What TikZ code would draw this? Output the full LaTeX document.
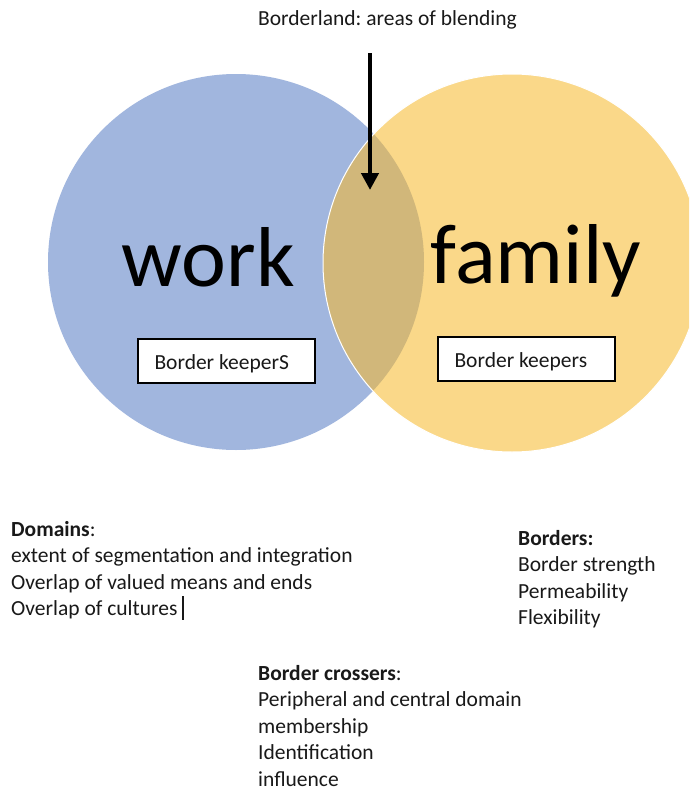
\documentclass[tikz,border=0pt]{standalone}
\usepackage{fontspec}
\setmainfont{Carlito}
\usetikzlibrary{arrows.meta}
\frenchspacing
\definecolor{workblue}{RGB}{161,182,222}
\definecolor{famyellow}{RGB}{250,216,137}
\definecolor{blendc}{RGB}{209,183,122}
\definecolor{txtc}{RGB}{25,25,25}
\tikzset{
  txt/.style={font=\fontsize{21.5}{26.5}\selectfont, inner sep=0pt, align=left, text=txtc},
  bigword/.style={font=\fontsize{85}{90}\selectfont, inner sep=0pt, text=black},
  keeper/.style={draw=black, line width=1.3pt, fill=white, minimum width=177pt, minimum height=44pt,
    font=\fontsize{21.5}{26.5}\selectfont, text=txtc, text height=20pt, text depth=4pt,
    inner ysep=0pt, inner xsep=16.5pt, text width=144pt, align=flush left},
  bigarrow/.style={line width=4.5pt, -{Triangle[length=17pt,width=17pt]}}
}
\begin{document}
\begin{tikzpicture}[x=1pt,y=-1pt]
\useasboundingbox (0,0) rectangle (689,790);
\fill[white] (0,0) rectangle (689,790);
\begin{scope}
  \clip (0,0) rectangle (689,790);
  \fill[workblue] (236,262) circle (188);
  \fill[famyellow] (512,263) circle (189);
  \begin{scope}
    \clip (236,262) circle (188);
    \fill[blendc] (512,263) circle (189);
  \end{scope}
  \draw[white, line width=1pt] (512,263) circle (189);
\end{scope}

\node[bigword, anchor=base] (work) at (208.5,286) {work};
\node[bigword, anchor=base] (family) at (536,283) {family};

\node[keeper] (bkl) at (226.5,361) {Border keeperS};
\node[keeper] (bkr) at (526.5,359) {Border keepers};

\node[txt, anchor=base west] (blabel) at (258,25) {Borderland: areas of blending};
\coordinate (arrtop) at (370,53);
\coordinate (arrtip) at (370,190);
\draw[bigarrow] (arrtop) -- (arrtip);

\node[txt, anchor=north west] (domains) at (11,517.45)
  {\strut\textbf{Domains}:\\ extent of segmentation and integration\\ Overlap of valued means and ends\\ Overlap of cultures\hspace{5pt}\rule[-4pt]{1.2pt}{24pt}};
\node[txt, anchor=north west] (borders) at (518,526.45)
  {\strut\textbf{Borders:}\\ Border strength\\ Permeability\\ Flexibility};
\node[txt, anchor=north west] (crossers) at (258,661.5)
  {\strut\textbf{Border crossers}:\\ Peripheral and central domain\\ membership\\ Identification\\ influence};
\end{tikzpicture}
\end{document}
